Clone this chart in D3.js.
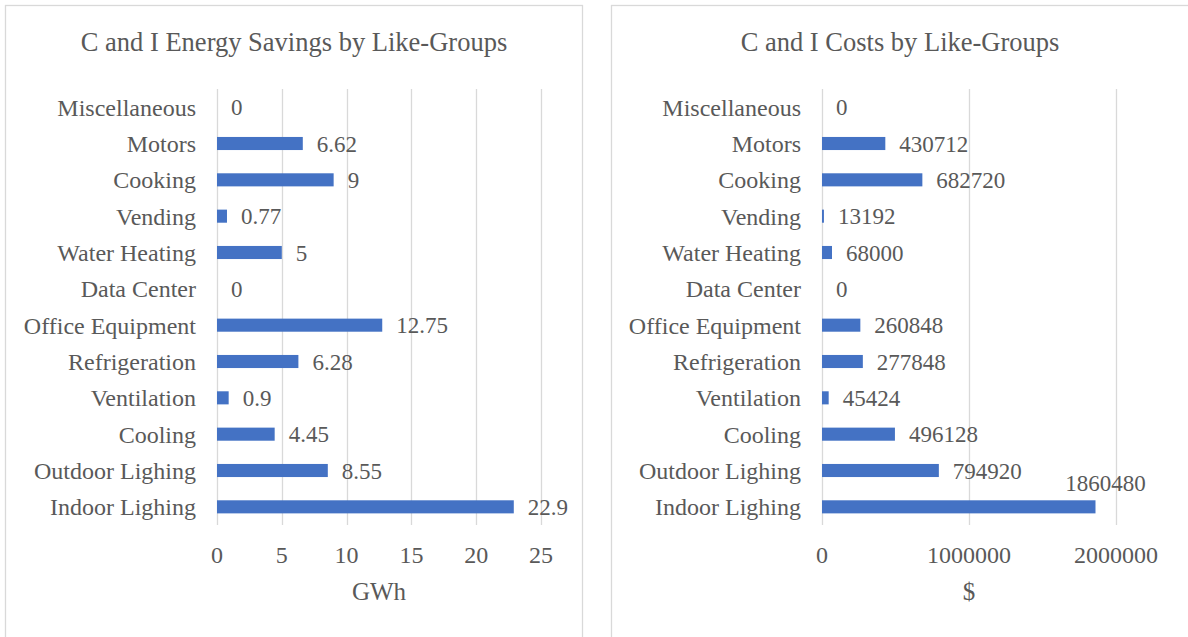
<!DOCTYPE html>
<html>
  <head>
    <meta charset="utf-8">
    <title>C and I Energy Savings and Costs by Like-Groups</title>
    <script src="https://d3js.org/d3.v7.min.js"></script>
    <style>
      body { margin: 0; background: #fff; }
      svg text { font-family: "Liberation Serif", "Times New Roman", Times, serif; fill: #595959; }
      .grid line { stroke: #d9d9d9; stroke-width: 1.3; }
      .panel { fill: #fff; stroke: #d9d9d9; stroke-width: 1.3; }
    </style>
  </head>
  <body>
    <svg id="chart" width="1188" height="637"></svg>
    <script>
      // data
      var categories = ["Miscellaneous", "Motors", "Cooking", "Vending", "Water Heating", "Data Center",
        "Office Equipment", "Refrigeration", "Ventilation", "Cooling", "Outdoor Lighing", "Indoor Lighing"];
      var savings = [0, 6.62, 9, 0.77, 5, 0, 12.75, 6.28, 0.9, 4.45, 8.55, 22.9];
      var costs = [0, 430712, 682720, 13192, 68000, 0, 260848, 277848, 45424, 496128, 794920, 1860480];
      var savingsTicks = [0, 5, 10, 15, 20, 25];
      var costTicks = [0, 1000000, 2000000];

      var svg = d3.select("#chart");

      var panels = [
        { x: 5, w: 577, title: "C and I Energy Savings by Like-Groups", unit: "GWh",
          values: savings, ticks: savingsTicks, max: 25, x0: 217, x1: 541 },
        { x: 611, w: 590, title: "C and I Costs by Like-Groups", unit: "$",
          values: costs, ticks: costTicks, max: 2000000, x0: 822, x1: 1116 }
      ];

      var y = d3.scaleBand()
        .domain(categories)
        .range([89, 525])
        .paddingInner(0.64)
        .paddingOuter(0.32);

      panels.forEach(function(p) {
        var g = svg.append("g");
        g.append("rect")
          .classed("panel", true)
          .attr("x", p.x + 0.5)
          .attr("y", 5.5)
          .attr("width", p.w)
          .attr("height", 660);
        g.append("text")
          .attr("x", p.x + 289)
          .attr("y", 51)
          .attr("text-anchor", "middle")
          .style("font-size", "26.5px")
          .text(p.title);

        var x = d3.scaleLinear()
          .domain([0, p.max])
          .range([p.x0, p.x1]);

        // gridlines
        g.append("g")
          .classed("grid", true)
          .selectAll("line")
            .data(p.ticks)
          .enter().append("line")
            .attr("x1", function(d) { return Math.round(x(d)) + 0.5; })
            .attr("x2", function(d) { return Math.round(x(d)) + 0.5; })
            .attr("y1", 89)
            .attr("y2", 525);

        // tick labels
        g.append("g")
          .selectAll("text")
            .data(p.ticks)
          .enter().append("text")
            .attr("x", function(d) { return x(d); })
            .attr("y", 563)
            .attr("text-anchor", "middle")
            .style("font-size", "24px")
            .text(function(d) { return d; });

        g.append("text")
          .attr("x", (p.x0 + p.x1) / 2)
          .attr("y", 600)
          .attr("text-anchor", "middle")
          .style("font-size", "25px")
          .text(p.unit);

        // category labels
        g.append("g")
          .selectAll("text")
            .data(categories)
          .enter().append("text")
            .attr("x", p.x0 - 21)
            .attr("y", function(d) { return y(d) + y.bandwidth() / 2; })
            .attr("dy", "0.35em")
            .attr("text-anchor", "end")
            .style("font-size", "24px")
            .text(function(d) { return d; });

        // bars
        g.append("g")
          .selectAll("rect")
            .data(p.values)
          .enter().append("rect")
            .attr("x", x(0))
            .attr("y", function(d, i) { return y(categories[i]); })
            .attr("width", function(d) { return x(d) - x(0); })
            .attr("height", y.bandwidth())
            .attr("fill", "#4472c4");

        // value labels
        g.append("g")
          .selectAll("text")
            .data(p.values)
          .enter().append("text")
            .each(function(d, i) {
              var t = d3.select(this)
                .style("font-size", "23px")
                .text(d);
              var yc = y(categories[i]) + y.bandwidth() / 2;
              var w = this.getComputedTextLength();
              if (x(d) + 15 + w > 1160) {
                // label doesn't fit right of bar: put it above the bar end
                t.attr("x", x(d) + 10).attr("y", yc - 24).attr("text-anchor", "middle");
              } else {
                t.attr("x", x(d) + 14).attr("y", yc).attr("text-anchor", "start");
              }
              t.attr("dy", "0.35em");
            });
      });
    </script>
  </body>
</html>
